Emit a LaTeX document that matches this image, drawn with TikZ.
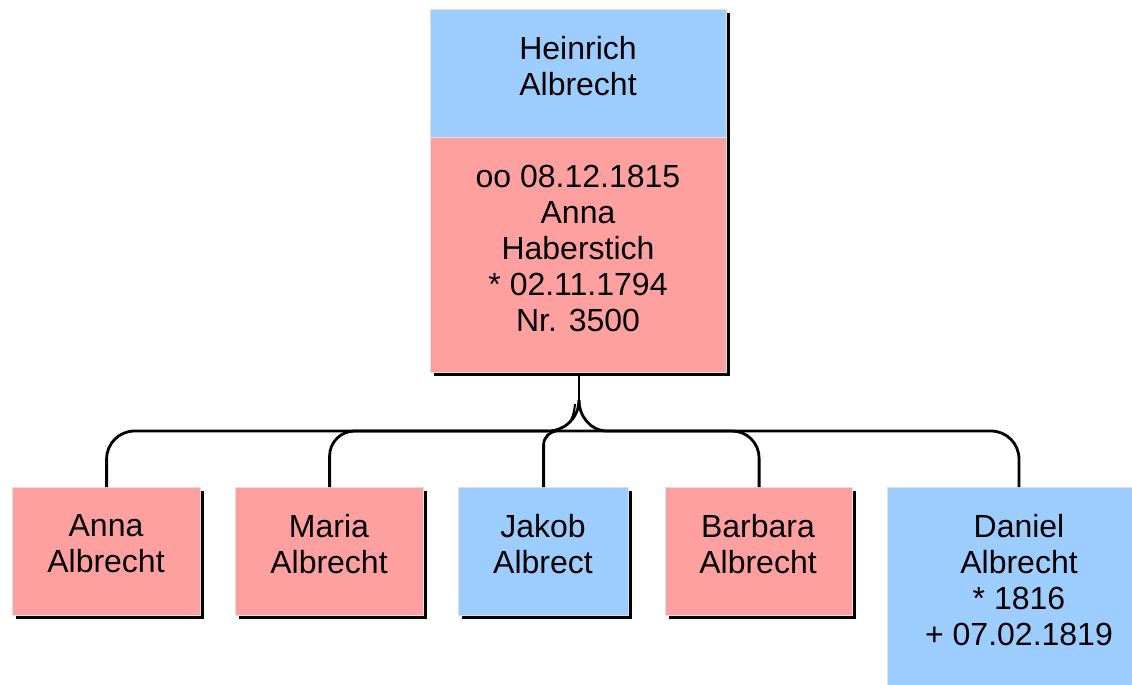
\documentclass[tikz,border=0pt]{standalone}
\usepackage{fontspec}
\setmainfont{Liberation Sans}
\usetikzlibrary{shadows}
\definecolor{boxblue}{RGB}{157,204,255}
\definecolor{boxpink}{RGB}{255,160,160}
\begin{document}
\begin{tikzpicture}[x=1pt,y=-1pt,
  box/.style={rectangle, draw=black!12, line width=1.2pt, anchor=north west, inner sep=0pt,
    general shadow={fill=black, shadow xshift=3pt, shadow yshift=-3pt}},
  bluebox/.style={box, fill=boxblue},
  pinkbox/.style={box, fill=boxpink},
  nametext/.style={font=\fontsize{32}{36}\selectfont, align=center, inner sep=0pt},
  link/.style={draw=black, line width=2.8pt}]
\useasboundingbox (0,0) rectangle (1132,685);
\clip (0,0) rectangle (1132,685);
% parent column
\node[bluebox, minimum width=296pt, minimum height=128pt] (head) at (430,9) {};
\node[pinkbox, minimum width=296pt, minimum height=235pt] (parent) at (430,137) {};
\node[nametext] (headtxt) at (578,66) {Heinrich\\Albrecht};
\node[nametext] (parenttxt) at (578,248) {oo 08.12.1815\\Anna\\Haberstich\\* 02.11.1794\\Nr. 3500};
% children
\node[pinkbox, minimum width=188pt, minimum height=128pt] (anna) at (12,487) {};
\node[pinkbox, minimum width=188pt, minimum height=128pt] (maria) at (235,487) {};
\node[bluebox, minimum width=170pt, minimum height=128pt] (jakob) at (458,487) {};
\node[pinkbox, minimum width=187pt, minimum height=128pt] (barbara) at (665,487) {};
\node[bluebox, minimum width=264pt, minimum height=220pt] (daniel) at (887,487) {};
\node[nametext] (annatxt) at (106,544) {Anna\\Albrecht};
\node[nametext] (mariatxt) at (329,544) {Maria\\Albrecht};
\node[nametext] (jakobtxt) at (543,544) {Jakob\\Albrect};
\node[nametext] (barbaratxt) at (758,544) {Barbara\\Albrecht};
\node[nametext] (danieltxt) at (1019,580) {Daniel\\Albrecht\\* 1816\\+ 07.02.1819};
% connectors
\coordinate (fork) at (579,400);
\coordinate (hl) at (548,431);
\coordinate (hr) at (607,431);
\coordinate (forkb) at (575,404);
\coordinate (hlb) at (560,428);
\draw[link] (parent.south -| fork) -- (fork);
\draw[link] (fork) to[out=-90,in=0] (hl);
\draw[link] (fork) to[out=-90,in=180] (hr);
\draw[link, line width=2pt] (forkb) to[out=-95,in=10] (hlb);
\draw[link, rounded corners=28pt] (anna.north) |- (hl);
\draw[link, rounded corners=25pt] (maria.north) |- (hl);
\draw[link, rounded corners=14pt] (jakob.north) |- (hr);
\draw[link, rounded corners=27pt] (barbara.north) |- (hr);
\draw[link, rounded corners=28pt] (daniel.north -| danieltxt) |- (hr);
\end{tikzpicture}
\end{document}
